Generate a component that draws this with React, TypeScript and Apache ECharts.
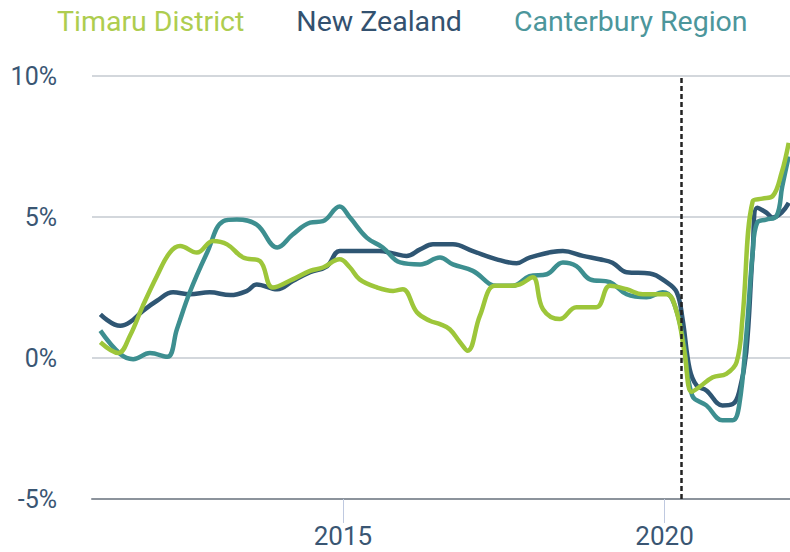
import React, { useEffect, useRef } from "react";
import * as echarts from "echarts";

const SERIES_NAMES = ["Timaru District", "New Zealand", "Canterbury Region"];
const SERIES_COLORS = ["#9dc63a", "#2f5673", "#3d8f90"];
const LEGEND_COLORS = ["#aecd4f", "#33516f", "#4c969b"];

const X_TICKS = [2015, 2020];
const Y_TICKS = [-5, 0, 5, 10];
const COVID_MARK = 2020.26;

// [year, % change]
const timaru: [number, number][] = [
  [2011.23, 0.56], [2011.51, 0.18], [2011.69, 0.79], [2011.89, 1.85], [2012.11, 2.91],
  [2012.31, 3.74], [2012.47, 3.97], [2012.73, 3.74], [2012.98, 4.15], [2013.2, 4.03],
  [2013.45, 3.56], [2013.71, 3.44], [2013.91, 2.5], [2014.22, 2.79], [2014.49, 3.09],
  [2014.69, 3.21], [2014.95, 3.5], [2015.11, 3.21], [2015.26, 2.79], [2015.53, 2.5],
  [2015.78, 2.38], [2015.93, 2.44], [2016.15, 1.62], [2016.35, 1.32], [2016.51, 1.2],
  [2016.66, 1.02], [2016.82, 0.56], [2016.94, 0.26], [2017.13, 1.5], [2017.36, 2.56],
  [2017.59, 2.56], [2017.75, 2.61], [2017.95, 2.86], [2018.11, 1.73], [2018.37, 1.38],
  [2018.63, 1.8], [2018.94, 1.8], [2019.15, 2.56], [2019.41, 2.44], [2019.66, 2.26],
  [2020.03, 2.26], [2020.19, 1.62], [2020.31, 0.2], [2020.42, -1.2], [2020.54, -1.03],
  [2020.75, -0.68], [2020.96, -0.56], [2021.12, -0.15], [2021.21, 1.38], [2021.37, 5.56],
  [2021.52, 5.65], [2021.68, 5.74], [2021.82, 6.57], [2021.93, 7.63],
];

const newZealand: [number, number][] = [
  [2011.23, 1.55], [2011.54, 1.14], [2011.69, 1.27], [2011.89, 1.67], [2012.11, 2.03],
  [2012.36, 2.33], [2012.62, 2.26], [2012.93, 2.33], [2013.25, 2.23], [2013.51, 2.38],
  [2013.66, 2.61], [2013.98, 2.44], [2014.22, 2.73], [2014.49, 3.04], [2014.75, 3.25],
  [2014.95, 3.79], [2015.26, 3.79], [2015.57, 3.79], [2015.78, 3.71], [2015.99, 3.62],
  [2016.2, 3.85], [2016.4, 4.03], [2016.71, 4.03], [2017.02, 3.79], [2017.39, 3.5],
  [2017.7, 3.36], [2017.9, 3.56], [2018.42, 3.79], [2018.73, 3.62], [2018.99, 3.5],
  [2019.19, 3.38], [2019.41, 3.04], [2019.77, 3.0], [2020.03, 2.69], [2020.19, 2.33],
  [2020.28, 1.38], [2020.39, -0.39], [2020.5, -0.98], [2020.65, -1.15], [2020.9, -1.68],
  [2021.06, -1.63], [2021.16, -1.2], [2021.27, 0.2], [2021.37, 3.74], [2021.44, 5.33],
  [2021.58, 5.16], [2021.68, 4.98], [2021.82, 5.16], [2021.93, 5.5],
];

const canterbury: [number, number][] = [
  [2011.23, 0.97], [2011.54, 0.14], [2011.74, -0.04], [2012.0, 0.18], [2012.27, 0.04],
  [2012.42, 1.02], [2012.62, 2.33], [2012.89, 3.74], [2013.14, 4.85], [2013.35, 4.91],
  [2013.66, 4.73], [2013.98, 3.92], [2014.22, 4.38], [2014.49, 4.8], [2014.69, 4.85],
  [2014.95, 5.37], [2015.11, 4.98], [2015.37, 4.27], [2015.62, 3.92], [2015.89, 3.39],
  [2016.2, 3.32], [2016.51, 3.56], [2016.71, 3.32], [2017.02, 3.09], [2017.39, 2.56],
  [2017.64, 2.56], [2017.9, 2.9], [2018.17, 2.97], [2018.42, 3.39], [2018.63, 3.26],
  [2018.84, 2.79], [2019.15, 2.69], [2019.41, 2.26], [2019.72, 2.15], [2019.97, 2.33],
  [2020.12, 2.08], [2020.28, 0.79], [2020.43, -1.33], [2020.65, -1.68], [2020.9, -2.21],
  [2021.06, -2.21], [2021.16, -1.68], [2021.27, 0.79], [2021.37, 3.74], [2021.44, 4.8],
  [2021.58, 4.91], [2021.74, 5.03], [2021.83, 6.09], [2021.93, 7.15],
];

const SERIES_DATA = [timaru, newZealand, canterbury];

export default function App() {
  const ref = useRef<HTMLDivElement>(null);
  useEffect(() => {
    if (!ref.current) return;
    const chart = echarts.init(ref.current, null, { renderer: "svg" });
    const font = "Roboto, 'Noto Sans', sans-serif";
    chart.setOption({
      animation: false,
      textStyle: { fontFamily: font },
      legend: {
        top: 2,
        left: 47,
        icon: "rect",
        itemWidth: 0,
        itemHeight: 0,
        itemGap: 47,
        selectedMode: false,
        textStyle: { fontSize: 28.5, fontFamily: font },
        data: SERIES_NAMES.map((n, i) => ({ name: n, textStyle: { color: LEGEND_COLORS[i] } })),
      },
      grid: { left: 92, right: 0, top: 76, bottom: 53, containLabel: false },
      xAxis: {
        type: "value",
        min: 2011.1,
        max: 2021.95,
        splitLine: { show: false },
        axisLine: { show: true, onZero: false, lineStyle: { color: "#8c939c", width: 2 } },
        axisTick: {
          show: true,
          customValues: X_TICKS,
          length: 24,
          lineStyle: { color: "#bfc9e0", width: 1 },
        },
        axisLabel: {
          customValues: X_TICKS,
          formatter: (v: number) => String(Math.round(v)),
          color: "#3a5673",
          fontSize: 26,
          margin: 24,
        },
      },
      yAxis: {
        type: "value",
        min: -5,
        max: 10,
        interval: 5,
        axisLine: { show: false },
        axisTick: { show: false },
        splitLine: { lineStyle: { color: "#d3d7dc", width: 2 } },
        axisLabel: {
          formatter: (v: number) => (Y_TICKS.includes(v) ? `${v}%` : ""),
          color: "#3a5673",
          fontSize: 25,
          margin: 35,
        },
      },
      series: SERIES_NAMES.map((name, i) => ({
        name,
        type: "line",
        data: SERIES_DATA[i],
        smooth: 0.4,
        showSymbol: false,
        lineStyle: { color: SERIES_COLORS[i], width: 4.5 },
        itemStyle: { color: SERIES_COLORS[i] },
        z: i === 0 ? 4 : 3,
        markLine:
          i === 0
            ? {
                silent: true,
                symbol: "none",
                label: { show: false },
                lineStyle: { color: "#222", type: [5, 3], width: 2.5 },
                data: [{ xAxis: COVID_MARK }],
              }
            : undefined,
      })),
    });
    return () => chart.dispose();
  }, []);
  return (
    <div
      ref={ref}
      style={{ position: "absolute", left: 0, top: 0, width: 790, height: 552 }}
    />
  );
}
